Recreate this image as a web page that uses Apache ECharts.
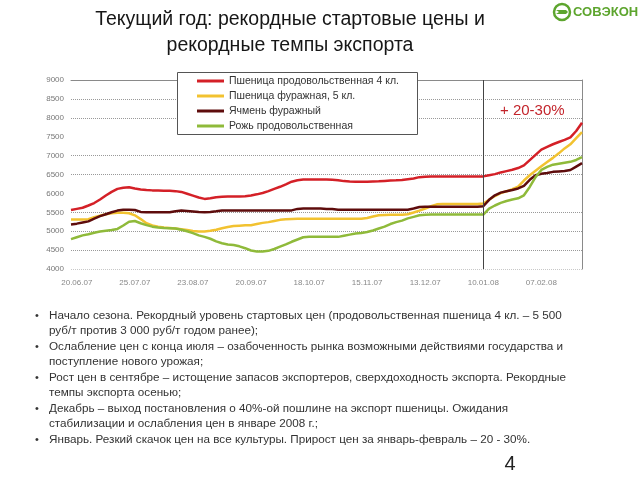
<!DOCTYPE html>
<html><head><meta charset="utf-8">
<script src="https://cdn.jsdelivr.net/npm/echarts@6/dist/echarts.min.js"></script>
<style>html,body{margin:0;padding:0;background:#fff;}#c{width:640px;height:480px;}</style>
</head><body><div id="c"></div>
<script>
const titleLines = ['Текущий год: рекордные стартовые цены и', 'рекордные темпы экспорта'];
const logoText = 'СОВЭКОН';
const annotation = '+ 20-30%';
const pageNumber = '4';
const seriesNames = ['Пшеница продовольственная 4 кл.', 'Пшеница фуражная, 5 кл.', 'Ячмень фуражный', 'Рожь продовольственная'];
const seriesColors = ['#d42027', '#f2c230', '#5e0c0c', '#8fba3a'];
const tickLabels = ['20.06.07','25.07.07','23.08.07','20.09.07','18.10.07','15.11.07','13.12.07','10.01.08','07.02.08'];
const dividerDate = '10.01.08';
const yMin = 4000, yMax = 9000, yStep = 500;
const categories = [
 '17.06.07','20.06.07','23.06.07','27.06.07','30.06.07','04.07.07','07.07.07','11.07.07','14.07.07','18.07.07',
 '21.07.07','25.07.07','28.07.07','31.07.07','03.08.07','06.08.07','09.08.07','12.08.07','15.08.07','18.08.07',
 '20.08.07','23.08.07','26.08.07','29.08.07','31.08.07','03.09.07','06.09.07','09.09.07','12.09.07','14.09.07',
 '17.09.07','20.09.07','23.09.07','26.09.07','28.09.07','01.10.07','04.10.07','07.10.07','10.10.07','12.10.07',
 '15.10.07','18.10.07','21.10.07','24.10.07','26.10.07','29.10.07','01.11.07','04.11.07','07.11.07','09.11.07',
 '12.11.07','15.11.07','18.11.07','21.11.07','23.11.07','26.11.07','29.11.07','02.12.07','05.12.07','07.12.07',
 '10.12.07','13.12.07','16.12.07','19.12.07','21.12.07','24.12.07','27.12.07','30.12.07','02.01.08','04.01.08',
 '07.01.08','10.01.08','13.01.08','16.01.08','18.01.08','21.01.08','24.01.08','27.01.08','30.01.08','01.02.08',
 '04.02.08','07.02.08','10.02.08','13.02.08','15.02.08','18.02.08','21.02.08','24.02.08','27.02.08'
];
const wheat4 = [
 5560,5590,5620,5680,5745,5840,5945,6040,6120,6150,
 6165,6130,6105,6090,6080,6075,6070,6070,6060,6040,
 5990,5940,5890,5855,5870,5900,5910,5920,5920,5920,
 5925,5945,5975,6010,6060,6120,6175,6240,6310,6350,
 6370,6370,6370,6370,6365,6360,6350,6325,6315,6310,
 6310,6310,6315,6320,6330,6340,6345,6355,6375,6395,
 6430,6440,6445,6445,6445,6445,6445,6445,6445,6445,
 6445,6450,6480,6510,6555,6590,6625,6670,6740,6880,
 7020,7160,7230,7300,7360,7415,7480,7650,7870
];
const wheat5 = [
 5310,5310,5310,5315,5370,5410,5450,5475,5485,5485,
 5475,5420,5320,5210,5150,5120,5100,5085,5070,5050,
 5030,5005,4995,4995,5010,5040,5080,5110,5135,5145,
 5155,5160,5190,5220,5240,5270,5300,5315,5325,5330,
 5330,5330,5330,5330,5330,5330,5330,5330,5330,5330,
 5330,5350,5390,5420,5430,5435,5435,5435,5450,5495,
 5545,5600,5660,5710,5720,5720,5720,5720,5720,5720,
 5720,5730,5830,5930,6010,6055,6110,6180,6340,6480,
 6600,6720,6830,6940,7060,7190,7300,7460,7620
];
const barley = [
 5180,5200,5230,5260,5330,5400,5450,5500,5545,5570,
 5570,5560,5510,5500,5500,5500,5500,5500,5530,5545,
 5535,5520,5505,5500,5510,5525,5545,5550,5550,5550,
 5550,5550,5550,5550,5550,5550,5550,5550,5550,5590,
 5600,5600,5600,5600,5590,5585,5570,5570,5570,5570,
 5570,5570,5570,5570,5570,5570,5570,5570,5570,5600,
 5640,5650,5650,5650,5650,5650,5650,5650,5650,5650,
 5650,5660,5830,5950,6020,6055,6090,6130,6200,6360,
 6480,6520,6540,6570,6580,6590,6620,6710,6800
];
const rye = [
 4790,4840,4890,4920,4960,4990,5010,5030,5060,5150,
 5250,5270,5210,5160,5120,5100,5085,5080,5070,5040,
 5000,4950,4890,4850,4800,4730,4680,4650,4635,4600,
 4550,4490,4465,4460,4480,4530,4590,4650,4720,4780,
 4840,4850,4850,4850,4850,4850,4850,4880,4910,4940,
 4955,4980,5020,5070,5120,5190,5240,5280,5340,5380,
 5420,5435,5440,5440,5440,5440,5440,5440,5440,5440,
 5440,5440,5600,5680,5750,5800,5840,5870,5950,6170,
 6430,6620,6700,6760,6785,6810,6835,6885,6960
];
const bullets = [
 ['Начало сезона. Рекордный уровень стартовых цен (продовольственная пшеница 4 кл. – 5 500', 'руб/т против 3 000 руб/т годом ранее);'],
 ['Ослабление цен с конца июля – озабоченность рынка возможными действиями государства и', 'поступление нового урожая;'],
 ['Рост цен в сентябре – истощение запасов экспортеров, сверхдоходность экспорта. Рекордные', 'темпы экспорта осенью;'],
 ['Декабрь – выход постановления о 40%-ой пошлине на экспорт пшеницы. Ожидания', 'стабилизации и ослабления цен в январе 2008 г.;'],
 ['Январь. Резкий скачок цен на все культуры. Прирост цен за январь-февраль – 20 - 30%.']
];

const FONT = '"Liberation Sans", Arial, sans-serif';
const seriesData = [wheat4, wheat5, barley, rye];

const graphics = [];
graphics.push({type:'text', x: 290, y: 20, z: 5, style:{text: titleLines[0], font: '19.5px ' + FONT, fill:'#161616', align:'center', verticalAlign:'middle'}});
graphics.push({type:'text', x: 290, y: 46, z: 5, style:{text: titleLines[1], font: '19.5px ' + FONT, fill:'#161616', align:'center', verticalAlign:'middle'}});
// logo
graphics.push({type:'circle', z: 5, shape:{cx: 562, cy: 12, r: 8}, style:{fill:'none', stroke:'#5da52e', lineWidth: 2.5}});
graphics.push({type:'polygon', z: 5, shape:{points:[[556,10],[566,10],[568,12],[566,14],[556,14],[559,12]]}, style:{fill:'#5da52e'}});
graphics.push({type:'text', x: 573, y: 12, z: 5, style:{text: logoText, font: 'bold 13px ' + FONT, fill:'#5da52e', verticalAlign:'middle'}});
// legend box
graphics.push({type:'rect', z: 3, shape:{x: 177.5, y: 72.5, width: 240, height: 62}, style:{fill:'#fff', stroke:'#555', lineWidth: 1}});
// annotation
graphics.push({type:'text', x: 500, y: 111, z: 5, style:{text: annotation, font: '15px ' + FONT, fill:'#c3242b', verticalAlign:'middle'}});
// bullets
let y = 316;
const withinGap = 14.5, betweenGap = 16.5;
bullets.forEach((b, bi) => {
  if (bi > 0) y += betweenGap;
  graphics.push({type:'text', x: 35, y: y, z: 5, style:{text:'•', font:'11px ' + FONT, fill:'#333', verticalAlign:'middle'}});
  b.forEach((t, li) => {
    if (li > 0) y += withinGap;
    graphics.push({type:'text', x: 49, y: y, z: 5, style:{text: t, font:'11.7px ' + FONT, fill:'#333', verticalAlign:'middle'}});
  });
});
graphics.push({type:'text', x: 510, y: 464, z: 5, style:{text: pageNumber, font:'20px ' + FONT, fill:'#222', align:'center', verticalAlign:'middle'}});

const splitColors = ['#c8c8c8','#999','#999','#999','rgba(0,0,0,0)','#999','#999','rgba(0,0,0,0)','#999','#999','#999'];

const chart = echarts.init(document.getElementById('c'), null, {renderer:'canvas'});
chart.setOption({
  animation: false,
  backgroundColor: '#fff',
  textStyle: {fontFamily: FONT},
  grid: {left: 71, top: 80, width: 511, height: 189, containLabel: false},
  legend: {
    data: seriesNames.map((n, k) => ({name: n, icon: 'rect', itemStyle: {color: seriesColors[k]}})),
    orient: 'vertical', left: 197, top: 74, padding: 0,
    itemWidth: 27, itemHeight: 3, itemGap: 1,
    textStyle: {fontSize: 10.5, lineHeight: 14, color: '#333', fontFamily: FONT},
    selectedMode: false, z: 6
  },
  xAxis: [{
    type: 'category', data: categories, boundaryGap: false,
    axisLine: {show: false}, axisTick: {show: false}, splitLine: {show: false},
    axisLabel: {interval: (i, v) => tickLabels.indexOf(v) >= 0, color: '#888', fontSize: 8, margin: 10, fontFamily: FONT}
  }, {
    type: 'category', data: categories, boundaryGap: false, position: 'top',
    axisLine: {show: true, lineStyle: {color: '#8a8a8a', width: 1}}, axisTick: {show: false}, axisLabel: {show: false}, splitLine: {show: false}
  }],
  yAxis: [{
    type: 'value', min: yMin, max: yMax, interval: yStep,
    axisLine: {show: false}, axisTick: {show: false},
    axisLabel: {color: '#777', fontSize: 8, margin: 7, fontFamily: FONT, formatter: v => String(v)},
    splitLine: {show: true, lineStyle: {type: 'dotted', color: splitColors, width: 1}}
  }, {
    type: 'value', min: yMin, max: yMax, interval: yStep, position: 'right',
    axisLine: {show: true, lineStyle: {color: '#8a8a8a', width: 1}}, axisTick: {show: false}, axisLabel: {show: false}, splitLine: {show: false}
  }],
  series: seriesNames.map((n, k) => ({
    name: n, type: 'line', data: seriesData[k], symbol: 'none', showSymbol: false,
    lineStyle: {width: 2.5, color: seriesColors[k]}, itemStyle: {color: seriesColors[k]},
    z: 2,
    markLine: k === 0 ? {
      silent: true, symbol: ['none','none'], label: {show: false},
      lineStyle: {color: '#444', width: 1, type: 'solid'},
      data: [{xAxis: dividerDate}]
    } : undefined
  })),
  graphic: graphics
});
</script>
</body></html>
